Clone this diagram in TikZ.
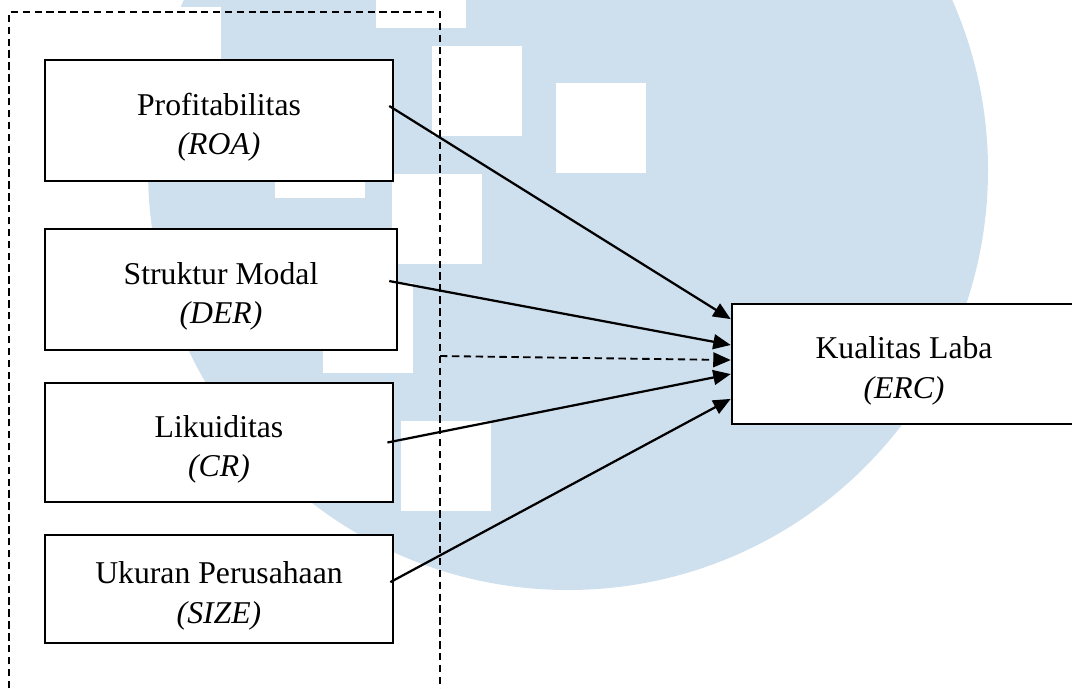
\documentclass[tikz,border=0pt]{standalone}
\usepackage{fontspec}
\setmainfont{Liberation Serif}
\usetikzlibrary{arrows.meta}
\definecolor{logobiru}{RGB}{206,223,238}
\newcommand{\dualini}[2]{\rule{0pt}{13.5pt}#1\\\textit{#2}}

\begin{document}
\begin{tikzpicture}[x=0.3784pt,y=-0.3784pt,
	kotak/.style={draw, fill=white, line width=0.95pt, inner sep=0pt, minimum width=131.7pt, minimum height=45.8pt, align=center, font=\fontsize{12}{14.8}\selectfont},
	panah/.style={line width=0.85pt, -{Triangle[length=6.6pt,width=5.6pt]}},
	putus/.style={line width=0.7pt, dash pattern=on 2.8pt off 1.7pt}]
	
	\clip (0,0) rectangle (1072,688);
	\fill[logobiru] (568,170) circle[radius=420];
	\foreach \x/\y in {131/7,275/108,376/-62,432/46,556/83,392/174,323/283,401/421}
		\fill[white] (\x,\y) rectangle ++(90,90);
	
	\node[kotak] (roa) at (219,120.5) {\dualini{Profitabilitas}{(ROA)}};
	\node[kotak, minimum width=133.2pt] (der) at (221,289.5) {\dualini{Struktur Modal}{(DER)}};
	\node[kotak, minimum height=45pt] (cr) at (219,442.5) {\dualini{Likuiditas}{(CR)}};
	\node[kotak, minimum height=40.9pt] (ukuran) at (219,589) {\dualini{Ukuran Perusahaan}{(SIZE)}};
	\node[kotak, minimum width=130.2pt, minimum height=45.4pt] (erc) at (904,364) {\dualini{Kualitas Laba}{(ERC)}};
	
	\coordinate (kiriBawah) at (9,700);
	\coordinate (kiriAtas) at (9,12);
	\coordinate (kananAtas) at (440,12);
	\coordinate (kananBawah) at (440,700);
	\coordinate (cabang) at (440,356);
	\draw[putus] (kiriBawah) -- (kiriAtas) -- (kananAtas) -- (kananBawah);
	
	\draw[panah] ([xshift=-1.9pt,yshift=5.5pt]roa.east) -- ([yshift=17pt]erc.west);
	\draw[panah] ([xshift=-3.4pt,yshift=3.2pt]der.east) -- ([yshift=7.2pt]erc.west);
	\draw[panah, putus] (cabang) -- ([yshift=1.5pt]erc.west);
	\draw[panah] ([xshift=-2.6pt]cr.east) -- ([yshift=-3.8pt]erc.west);
	\draw[panah] ([xshift=-1.5pt,yshift=2.6pt]ukuran.east) -- ([yshift=-13.2pt]erc.west);
	
\end{tikzpicture}
\end{document}
